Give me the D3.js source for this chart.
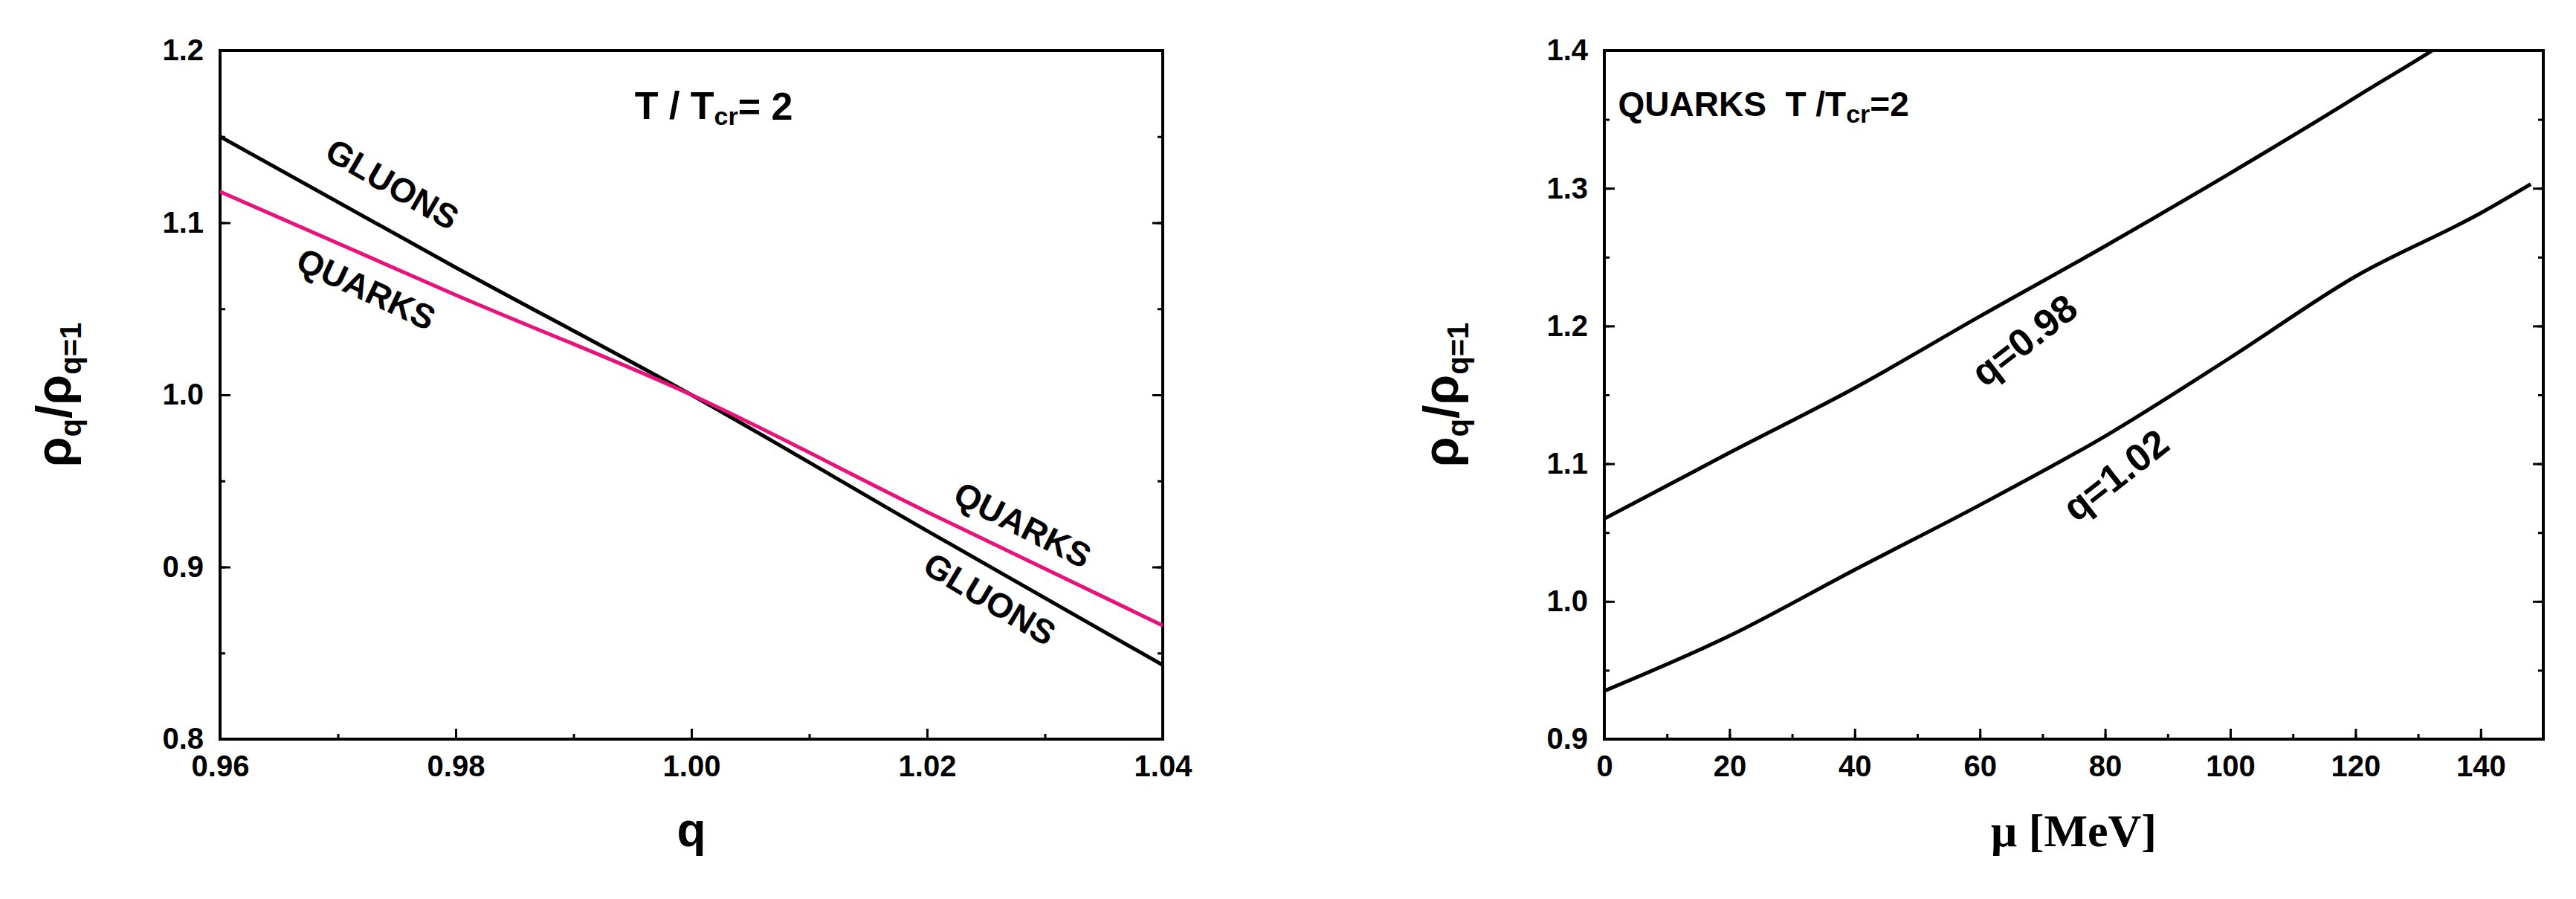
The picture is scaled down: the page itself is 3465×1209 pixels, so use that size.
<!DOCTYPE html>
<html><head><meta charset="utf-8">
<script src="https://d3js.org/d3.v7.min.js"></script>
<style>body{margin:0;background:#fff}</style></head>
<body><script>
// left panel data
var qVals = [0.96, 0.98, 1.00, 1.02, 1.04];
var gluons = [1.150, 1.074, 1.000, 0.921, 0.843];
var quarks = [1.118, 1.058, 1.000, 0.932, 0.866];
// right panel data
var muVals = [0, 20, 40, 60, 80, 100, 120, 140, 148];
var q098 = [1.060, 1.108, 1.155, 1.207, 1.258, 1.311, 1.366, 1.425, 1.456];
var q102 = [0.935, 0.975, 1.023, 1.070, 1.120, 1.177, 1.236, 1.282, 1.303];
var leftXTicks = [0.96, 0.98, 1.00, 1.02, 1.04];
var leftYTicks = [0.8, 0.9, 1.0, 1.1, 1.2];
var rightXTicks = [0, 20, 40, 60, 80, 100, 120, 140];
var rightYTicks = [0.9, 1.0, 1.1, 1.2, 1.3, 1.4];

var narrow = "'Liberation Sans Narrow','Arial Narrow','Liberation Sans',sans-serif";
var svg = d3.select("body").append("svg").attr("width", 3465).attr("height", 1209);

function panel(cfg) {
  var g = svg.append("g");
  var x = d3.scaleLinear().domain(cfg.xd).range([cfg.l, cfg.r]);
  var y = d3.scaleLinear().domain(cfg.yd).range([cfg.b, cfg.t]);
  var clipId = "c" + cfg.l;
  svg.append("clipPath").attr("id", clipId).append("rect")
    .attr("x", cfg.l).attr("y", cfg.t).attr("width", cfg.r - cfg.l).attr("height", cfg.b - cfg.t);

  function ax(axis, tr, ticks, fmt, minor) {
    var a = g.append("g").attr("transform", tr).call(axis.tickValues(minor).tickSize(-7).tickFormat(""));
    a.selectAll("path").remove();
    var m = g.append("g").attr("transform", tr).call(axis.tickValues(ticks).tickSize(-14).tickPadding(22).tickFormat(fmt));
    m.selectAll("path").remove();
    g.selectAll("line").attr("stroke", "#000").attr("stroke-width", 3);
    m.selectAll("text").style("font-family", narrow).style("font-weight", "bold").style("font-size", "40px").attr("fill", "#000");
    return m;
  }
  ax(d3.axisBottom(x), "translate(0," + cfg.b + ")", cfg.xt, cfg.xf, cfg.xm);
  ax(d3.axisLeft(y), "translate(" + cfg.l + ",0)", cfg.yt, cfg.yf, cfg.ym);
  var rr = ax(d3.axisRight(y), "translate(" + cfg.r + ",0)", cfg.yt, "", cfg.ym);
  rr.selectAll("text").remove();
  g.selectAll(".tick line").attr("stroke-width", 3);

  g.append("rect").attr("x", cfg.l).attr("y", cfg.t).attr("width", cfg.r - cfg.l).attr("height", cfg.b - cfg.t)
    .attr("fill", "none").attr("stroke", "#000").attr("stroke-width", 4);

  var line = d3.line().curve(d3.curveMonotoneX).x(function (d) { return x(d[0]); }).y(function (d) { return y(d[1]); });
  cfg.series.forEach(function (s) {
    g.append("path").attr("clip-path", "url(#" + clipId + ")")
      .attr("d", line(d3.zip(cfg.xs, s.v))).attr("fill", "none").attr("stroke", s.c).attr("stroke-width", 5);
  });
  cfg.labels.forEach(function (lb) {
    g.append("text").attr("transform", "translate(" + x(lb.x) + "," + y(lb.y) + ") rotate(" + lb.a + ")")
      .attr("text-anchor", lb.anchor || "middle").attr("dominant-baseline", "middle")
      .style("font-family", narrow).style("font-weight", "bold").style("font-size", (lb.s || 46) + "px")
      .html(lb.t);
  });
  // y axis title
  g.append("text").attr("transform", "translate(" + cfg.yl + "," + ((cfg.t + cfg.b) / 2) + ") rotate(-90)")
    .attr("text-anchor", "middle").style("font-family", narrow).style("font-weight", "bold").style("font-size", "66px")
    .html("ρ<tspan dy='14' font-size='40'>q</tspan><tspan dy='-14'>/ρ</tspan><tspan dy='14' font-size='40'>q=1</tspan>");
  g.append("text").attr("x", (cfg.l + cfg.r) / 2).attr("y", 1138).attr("text-anchor", "middle")
    .style("font-family", cfg.xfont).style("font-weight", "bold").style("font-size", cfg.xsize + "px").text(cfg.xl);
}

panel({
  l: 296, r: 1564, t: 68, b: 994, xd: [0.96, 1.04], yd: [0.8, 1.2],
  xt: leftXTicks, yt: leftYTicks, xf: d3.format(".2f"), yf: d3.format(".1f"),
  xm: d3.range(0.96, 1.0401, 0.01), ym: d3.range(0.8, 1.2001, 0.05),
  xs: qVals, series: [{ v: gluons, c: "#000" }, { v: quarks, c: "#e8137a" }],
  labels: [
    { t: "GLUONS", x: 0.9745, y: 1.121, a: 30 },
    { t: "QUARKS", x: 0.9723, y: 1.060, a: 25 },
    { t: "QUARKS", x: 1.028, y: 0.923, a: 27 },
    { t: "GLUONS", x: 1.0252, y: 0.880, a: 31 },
    { t: "T / T<tspan dy='12' font-size='34'>cr</tspan><tspan dy='-12'>= 2</tspan>", x: 1.0019, y: 1.166, a: 0, s: 52 }
  ],
  yl: 95, xl: "q", xfont: narrow, xsize: 64
});

panel({
  l: 2158, r: 3421, t: 68, b: 994, xd: [0, 150], yd: [0.9, 1.4],
  xt: rightXTicks, yt: rightYTicks, xf: d3.format("d"), yf: d3.format(".1f"),
  xm: d3.range(0, 151, 10), ym: d3.range(0.9, 1.4001, 0.05),
  xs: muVals, series: [{ v: q098, c: "#000" }, { v: q102, c: "#000" }],
  labels: [
    { t: "q=0.98", x: 67.4, y: 1.188, a: -38, s: 52 },
    { t: "q=1.02", x: 82, y: 1.090, a: -38, s: 52 },
    { t: "QUARKS&#160;&#160;T /T<tspan dy='12' font-size='34'>cr</tspan><tspan dy='-12'>=2</tspan>", x: 2.2, y: 1.359, a: 0, anchor: "start", s: 46 }
  ],
  yl: 1961, xl: "μ [MeV]", xfont: "'Liberation Serif','Times New Roman',serif", xsize: 62
});
</script></body></html>
